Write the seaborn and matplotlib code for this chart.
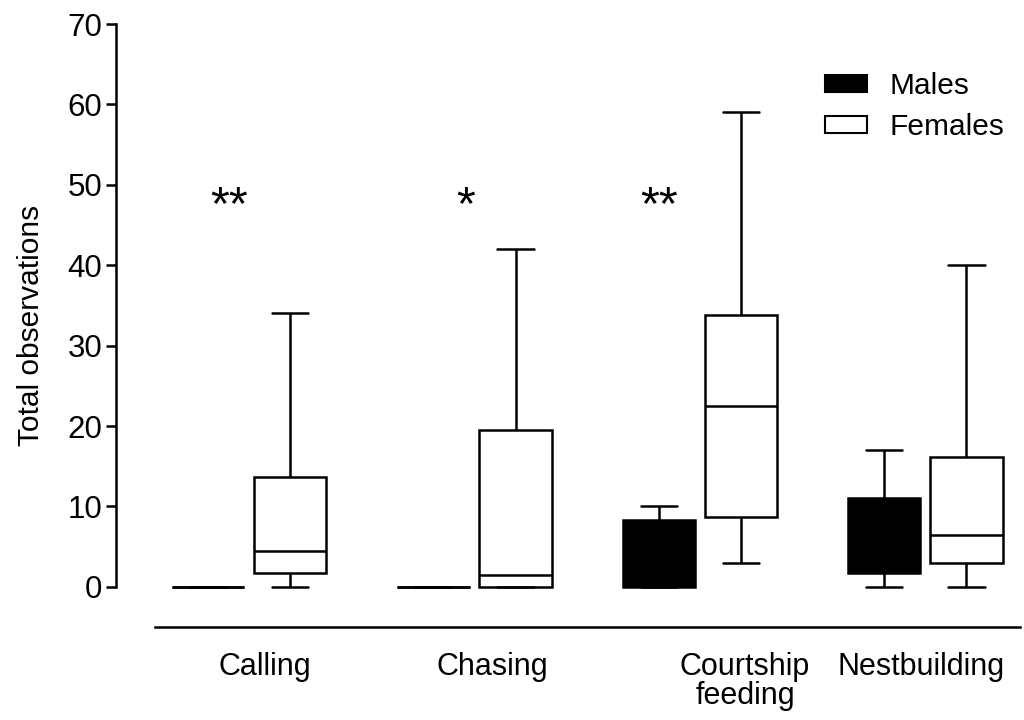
import matplotlib

matplotlib.use("Agg")

import matplotlib.pyplot as plt
import pandas as pd
import seaborn as sns
from matplotlib.patches import Patch

sns.set_theme(style="ticks")
plt.rcParams["font.family"] = ["Liberation Sans", "DejaVu Sans"]
plt.rcParams.update({"text.color": "black", "axes.labelcolor": "black",
                     "xtick.color": "black", "ytick.color": "black"})

# Five-number summaries (min, Q1, median, Q3, max) per behaviour and sex
behaviours = ["Calling", "Chasing", "Courtship\nfeeding", "Nestbuilding"]
males_calling = [0, 0, 0, 0, 0]
males_chasing = [0, 0, 0, 0, 0]
males_courtship = [0, 0, 3, 8.3, 10]
males_nest = [0, 1.7, 6, 11, 17]
females_calling = [0, 1.75, 4.5, 13.7, 34]
females_chasing = [0, 0, 1.5, 19.5, 42]
females_courtship = [3, 8.7, 22.5, 33.8, 59]
females_nest = [0, 3, 6.5, 16.2, 40]
significance = ["**", "*", "**", ""]

males = [males_calling, males_chasing, males_courtship, males_nest]
females = [females_calling, females_chasing, females_courtship, females_nest]

rows = []
for beh, m_vals, f_vals in zip(behaviours, males, females):
    rows += [(beh, "Males", v) for v in m_vals]
    rows += [(beh, "Females", v) for v in f_vals]
df = pd.DataFrame(rows, columns=["behaviour", "sex", "count"])

fig = plt.figure(figsize=(10.24, 7.2), dpi=100)
ax = fig.add_axes([116 / 1024, 1 - 627 / 720, (1020 - 116) / 1024, (627 - 24) / 720])

sns.boxplot(data=df, x="behaviour", y="count", hue="sex", order=behaviours,
            hue_order=["Males", "Females"],
            palette={"Males": "black", "Females": "white"},
            linecolor="black", linewidth=1.8, whis=(0, 100),
            width=0.73, gap=0.12, saturation=1, legend=False, ax=ax)

# significance marks
for x, mark in zip([-0.09, 0.96, 1.82], significance):
    ax.text(x, 45.8, mark, ha="center", va="baseline", fontsize=35)

ax.set_ylim(-5, 70)
ax.set_xlim(-0.59, 3.42)
ax.set_yticks(range(0, 71, 10))
ax.set_ylabel("Total observations", fontsize=21.5, labelpad=16)
ax.set_xlabel("")
ax.set_xticks([0.07, 1.08, 2.2, 2.98], behaviours)
ax.tick_params(axis="x", length=0, pad=18, labelsize=22)
for lbl in ax.get_xticklabels():
    lbl.set_linespacing(0.95)
ax.tick_params(axis="y", length=7, width=1.8, pad=3, labelsize=22.5)

sns.despine(ax=ax)
ax.spines["left"].set_bounds(0, 70)
ax.spines["bottom"].set_bounds(-0.417, 3.42)
for side in ["left", "bottom"]:
    ax.spines[side].set_linewidth(1.8)
    ax.spines[side].set_color("black")

handles = [Patch(facecolor="black", edgecolor="black", linewidth=1.5, label="Males"),
           Patch(facecolor="white", edgecolor="black", linewidth=1.5, label="Females")]
ax.legend(handles=handles, loc="upper left", bbox_to_anchor=(0.755, 0.965),
          frameon=False, fontsize=21.5, handlelength=1.4, handleheight=0.5,
          labelspacing=0.45, handletextpad=0.75)

fig.savefig("out.png", dpi=100)
